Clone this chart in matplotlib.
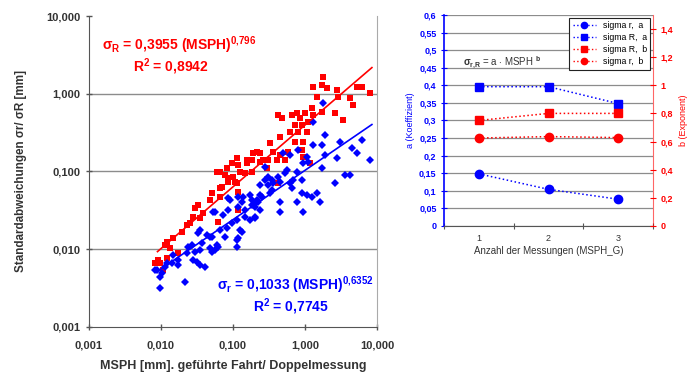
import matplotlib.pyplot as plt
import numpy as np
from matplotlib.lines import Line2D

plt.rcParams['font.family'] = ['Liberation Sans', 'DejaVu Sans']
plt.rcParams['mathtext.fontset'] = 'custom'
plt.rcParams['mathtext.rm'] = 'Liberation Sans:bold'
plt.rcParams['mathtext.it'] = 'Liberation Sans:bold'
plt.rcParams['mathtext.bf'] = 'Liberation Sans:bold'

# --- linkes Diagramm: sigma R (Quadrate, rot) ---
msph_R = [0.00826, 0.00909, 0.00969, 0.0107, 0.0114, 0.0121, 0.0133, 0.0121, 0.0147, 0.0172,
          0.0196, 0.0230, 0.0253, 0.0278, 0.0348, 0.0297, 0.0327, 0.0383, 0.0480, 0.0511,
          0.0660, 0.0660, 0.0704, 0.0600, 0.0774, 0.0853, 0.100, 0.114, 0.125, 0.147,
          0.184, 0.0660, 0.0826, 0.117, 0.0969, 0.156, 0.114, 0.156, 0.184, 0.190,
          0.237, 0.261, 0.297, 0.327, 0.306, 0.359, 0.408, 0.450, 0.527, 0.581,
          0.450, 0.422, 0.480, 0.619, 0.660, 0.726, 0.726, 0.774, 0.800, 0.853,
          0.909, 0.909, 0.938, 0.938, 1.00, 1.07, 1.10, 1.25, 1.29, 1.47,
          1.29, 1.72, 1.78, 2.02, 1.72, 2.61, 2.78, 2.87, 3.37, 4.22,
          4.64, 5.27, 6.19, 8.00, 0.422, 0.117, 0.117, 0.0619, 0.107, 0.0853,
          0.215, 0.237, 1.17]
sigma_R = [0.00665, 0.00727, 0.00665, 0.00541, 0.0113, 0.0124, 0.0104, 0.00771, 0.0140, 0.00895,
           0.0167, 0.0205, 0.0218, 0.0260, 0.0252, 0.0340, 0.0371, 0.0292, 0.0430, 0.0529,
           0.0470, 0.0614, 0.0632, 0.0986, 0.0902, 0.0733, 0.0850, 0.0712, 0.0986, 0.0957,
           0.0986, 0.0986, 0.111, 0.121, 0.129, 0.129, 0.149, 0.141, 0.141, 0.173,
           0.173, 0.141, 0.111, 0.233, 0.141, 0.178, 0.141, 0.163, 0.141, 0.178,
           0.278, 0.533, 0.488, 0.322, 0.533, 0.396, 0.239, 0.565, 0.322, 0.488,
           0.396, 0.189, 0.239, 0.154, 0.565, 0.322, 0.433, 0.656, 0.533, 0.908,
           1.22, 1.30, 1.64, 1.19, 0.582, 0.565, 1.12, 0.908, 0.459, 0.882,
           0.717, 1.22, 1.22, 1.02, 0.0712, 0.0545, 0.0320, 0.0224, 0.0733, 0.0825,
           0.178, 0.133, 0.129]

# --- linkes Diagramm: sigma r (Rauten, blau) ---
msph_r = [0.00969, 0.0215, 0.00880, 0.0103, 0.00969, 0.00826, 0.0121, 0.0142, 0.0172, 0.0114,
          0.0147, 0.0172, 0.0230, 0.0278, 0.0316, 0.0348, 0.0408, 0.0237, 0.0270, 0.0297,
          0.0348, 0.0371, 0.0480, 0.0562, 0.0511, 0.0600, 0.0619, 0.0774, 0.0435, 0.0511,
          0.0327, 0.0348, 0.0660, 0.0826, 0.114, 0.114, 0.117, 0.133, 0.125, 0.0969,
          0.114, 0.147, 0.172, 0.202, 0.0527, 0.0726, 0.0909, 0.117, 0.133, 0.147,
          0.202, 0.237, 0.184, 0.0853, 0.0853, 0.117, 0.172, 0.215, 0.237, 0.222,
          0.253, 0.327, 0.348, 0.237, 0.278, 0.306, 0.359, 0.348, 0.450, 0.422,
          0.306, 0.278, 0.450, 0.450, 0.774, 0.938, 0.660, 0.619, 0.681, 0.909,
          0.562, 0.774, 0.527, 0.909, 1.07, 1.25, 1.47, 1.62, 2.61, 3.59,
          4.22, 1.72, 0.495, 0.619, 0.800, 0.938, 1.10, 1.07, 1.29, 1.72,
          1.90, 1.90, 2.78, 3.06, 4.50, 5.27, 6.19, 8.00, 1.29, 1.78,
          0.202, 0.202, 0.0562, 0.138, 0.184, 0.0480]
sigma_r = [0.00318, 0.00379, 0.00541, 0.00494, 0.00440, 0.00541, 0.00665, 0.00665, 0.00627, 0.00591,
           0.00843, 0.00727, 0.00895, 0.00727, 0.00686, 0.00627, 0.00591, 0.0107, 0.0113, 0.00922,
           0.00977, 0.0120, 0.0104, 0.00977, 0.00922, 0.0113, 0.0107, 0.0144, 0.0152, 0.0144,
           0.0162, 0.0177, 0.0177, 0.0188, 0.0132, 0.0107, 0.0140, 0.0167, 0.0177, 0.0218,
           0.0238, 0.0260, 0.0238, 0.0252, 0.0301, 0.0276, 0.0430, 0.0470, 0.0405, 0.0320,
           0.0349, 0.0499, 0.0430, 0.0456, 0.0320, 0.0349, 0.0499, 0.0430, 0.0320, 0.0405,
           0.0470, 0.0529, 0.0578, 0.0671, 0.0778, 0.0671, 0.0712, 0.0778, 0.0733, 0.0850,
           0.0850, 0.114, 0.0405, 0.0301, 0.0405, 0.0301, 0.0614, 0.0712, 0.0778, 0.0778,
           0.105, 0.0986, 0.0957, 0.0529, 0.0499, 0.0470, 0.0529, 0.0405, 0.0712, 0.0902,
           0.0902, 0.111, 0.173, 0.163, 0.189, 0.129, 0.133, 0.154, 0.219, 0.219,
           0.295, 0.163, 0.149, 0.239, 0.200, 0.173, 0.254, 0.141, 0.433, 0.760,
           0.0260, 0.0394, 0.0301, 0.0470, 0.0371, 0.0144]

# Regressionen (Potenzfunktion)
fit_R = (0.3955, 0.796)
fit_r = (0.1033, 0.6352)
fit_range = (0.009, 8.5)

log_ticks = [0.001, 0.01, 0.1, 1, 10]
log_labels = ['0,001', '0,010', '0,100', '1,000', '10,000']

# --- rechtes Diagramm ---
n_mess = [1, 2, 3]
a_sigma_r = [0.148, 0.104, 0.076]
a_sigma_R = [0.396, 0.396, 0.348]
b_sigma_R = [0.75, 0.80, 0.80]
b_sigma_r = [0.625, 0.635, 0.628]

a_ticks = [0, 0.05, 0.1, 0.15, 0.2, 0.25, 0.3, 0.35, 0.4, 0.45, 0.5, 0.55, 0.6]
a_labels = ['0', '0,05', '0,1', '0,15', '0,2', '0,25', '0,3', '0,35', '0,4', '0,45', '0,5', '0,55', '0,6']
b_ticks = [0, 0.2, 0.4, 0.6, 0.8, 1.0, 1.2, 1.4]
b_labels = ['0', '0,2', '0,4', '0,6', '0,8', '1', '1,2', '1,4']

RED = '#ff0000'
BLUE = '#0000ff'
GRID = '#8c8c8c'
TXT = '#333333'

fig = plt.figure(figsize=(6.93, 3.74), dpi=100)

# ================= linkes Diagramm =================
ax = fig.add_axes([0.128, 0.126, 0.416, 0.831])
ax.set_xscale('log')
ax.set_yscale('log')
ax.set_xlim(0.001, 10)
ax.set_ylim(0.001, 10)

for gy in [0.01, 0.1, 1]:
    ax.axhline(gy, color=GRID, lw=1.0, zorder=1)

ax.plot(msph_R, sigma_R, 's', color=RED, ms=4.8, mew=0, zorder=3)
ax.plot(msph_r, sigma_r, 'D', color=BLUE, ms=4.3, mew=0, zorder=3)

xf = np.geomspace(fit_range[0], fit_range[1], 50)
ax.plot(xf, fit_R[0] * xf ** fit_R[1], color=RED, lw=1.2, zorder=4)
ax.plot(xf, fit_r[0] * xf ** fit_r[1], color=BLUE, lw=1.2, zorder=4)

ax.set_xticks(log_ticks)
ax.set_xticklabels(log_labels)
ax.set_yticks(log_ticks)
ax.set_yticklabels(log_labels)
ax.minorticks_off()
ax.tick_params(axis='both', direction='inout', length=5, width=1, color='#555555',
               labelsize=8, labelcolor=TXT)
ax.tick_params(axis='x', pad=7)
for lab in ax.get_xticklabels() + ax.get_yticklabels():
    lab.set_fontweight('bold')
ax.spines['top'].set_visible(False)
for s in ['left', 'bottom']:
    ax.spines[s].set_color('#555555')
ax.spines['right'].set_color('#aaaaaa')

ax.set_xlabel('MSPH [mm]. geführte Fahrt/ Doppelmessung', fontsize=9, fontweight='bold',
              color=TXT, labelpad=7)
ax.set_ylabel('Standardabweichungen σr/ σR [mm]', fontsize=8.4, fontweight='bold',
              color=TXT, labelpad=14)

ax.text(0.045, 0.907, r'$\sigma_{R}$' + ' = 0,3955 (MSPH)' + r'$^{0{,}796}$', transform=ax.transAxes,
        color=RED, fontsize=10, fontweight='bold', ha='left', va='center')
ax.text(0.285, 0.836, r'R$^{2}$ = 0,8942', transform=ax.transAxes,
        color=RED, fontsize=10, fontweight='bold', ha='center', va='center')
ax.text(0.445, 0.135, r'$\sigma_{r}$' + ' = 0,1033 (MSPH)' + r'$^{0{,}6352}$', transform=ax.transAxes,
        color=BLUE, fontsize=10, fontweight='bold', ha='left', va='center')
ax.text(0.70, 0.064, r'R$^{2}$ = 0,7745', transform=ax.transAxes,
        color=BLUE, fontsize=10, fontweight='bold', ha='center', va='center')

# ================= rechtes Diagramm =================
axr = fig.add_axes([0.641, 0.396, 0.301, 0.564])
axr.set_xlim(0.5, 3.5)
axr.set_ylim(0, 0.6)
for gy in a_ticks:
    axr.axhline(gy, color=GRID, lw=0.9, zorder=1)

axr.plot(n_mess, a_sigma_r, ':', color=BLUE, lw=1.1, marker='o', ms=6, zorder=3)
axr.plot(n_mess, a_sigma_R, ':', color=BLUE, lw=1.1, marker='s', ms=5.5, zorder=3)

axr.set_yticks(a_ticks)
axr.set_yticklabels(a_labels)
axr.set_xticks([0.5, 1.5, 2.5, 3.5])
axr.set_xticklabels([])
axr.set_xticks(n_mess, minor=True)
axr.set_xticklabels([str(n) for n in n_mess], minor=True)
axr.tick_params(axis='x', which='minor', length=0, labelsize=6.5, labelcolor=TXT, pad=6)
axr.tick_params(axis='x', which='major', direction='inout', length=4, color='#555555')
axr.tick_params(axis='y', direction='inout', length=4, color=BLUE, labelsize=6.5,
                labelcolor=BLUE)
for lab in axr.get_yticklabels():
    lab.set_fontweight('bold')
axr.spines['left'].set_color(BLUE)
axr.spines['left'].set_linewidth(1.2)
axr.spines['bottom'].set_color('#555555')
axr.spines['top'].set_visible(False)
axr.spines['right'].set_visible(False)
axr.set_xlabel('Anzahl der Messungen (MSPH_G)', fontsize=7, color=TXT, labelpad=2)
axr.set_ylabel('a (Koeffizient)', fontsize=6.5, color=BLUE, labelpad=3)

ax2 = axr.twinx()
ax2.set_ylim(0, 1.5)
ax2.plot(n_mess, b_sigma_R, ':', color=RED, lw=1.1, marker='s', ms=5.5, zorder=3)
ax2.plot(n_mess, b_sigma_r, ':', color=RED, lw=1.1, marker='o', ms=6, zorder=3)
ax2.set_yticks(b_ticks)
ax2.set_yticklabels(b_labels)
ax2.tick_params(axis='y', direction='inout', length=4, color=RED, labelsize=6.5,
                labelcolor=RED)
for lab in ax2.get_yticklabels():
    lab.set_fontweight('bold')
for s in ['left', 'top', 'bottom']:
    ax2.spines[s].set_visible(False)
ax2.spines['right'].set_color(RED)
ax2.spines['right'].set_alpha(0.6)
ax2.set_ylabel('b (Exponent)', fontsize=6.5, color=RED, labelpad=4)

axr.text(0.09, 0.775, r'$\sigma_{r{,}R}$' + ' = a ' + r'$\cdot$' + ' MSPH ' + r'$^{b}$',
         transform=axr.transAxes, fontsize=7, color=TXT, ha='left', va='center')

handles = [
    Line2D([], [], ls=':', color=BLUE, marker='o', ms=4.5, lw=1),
    Line2D([], [], ls=':', color=BLUE, marker='s', ms=4.5, lw=1),
    Line2D([], [], ls=':', color=RED, marker='s', ms=4.5, lw=1),
    Line2D([], [], ls=':', color=RED, marker='o', ms=4.5, lw=1),
]
labels = ['sigma r,  a', 'sigma R,  a', 'sigma R,  b', 'sigma r,  b']
leg = ax2.legend(handles, labels, loc='upper right', bbox_to_anchor=(1.0, 1.0),
                 fontsize=6.3, frameon=True, fancybox=False, framealpha=1,
                 edgecolor='#222222', handlelength=2.6, borderpad=0.4,
                 labelspacing=0.35, borderaxespad=0.3)
leg.get_frame().set_linewidth(0.8)

fig.savefig('out.png', dpi=100)
